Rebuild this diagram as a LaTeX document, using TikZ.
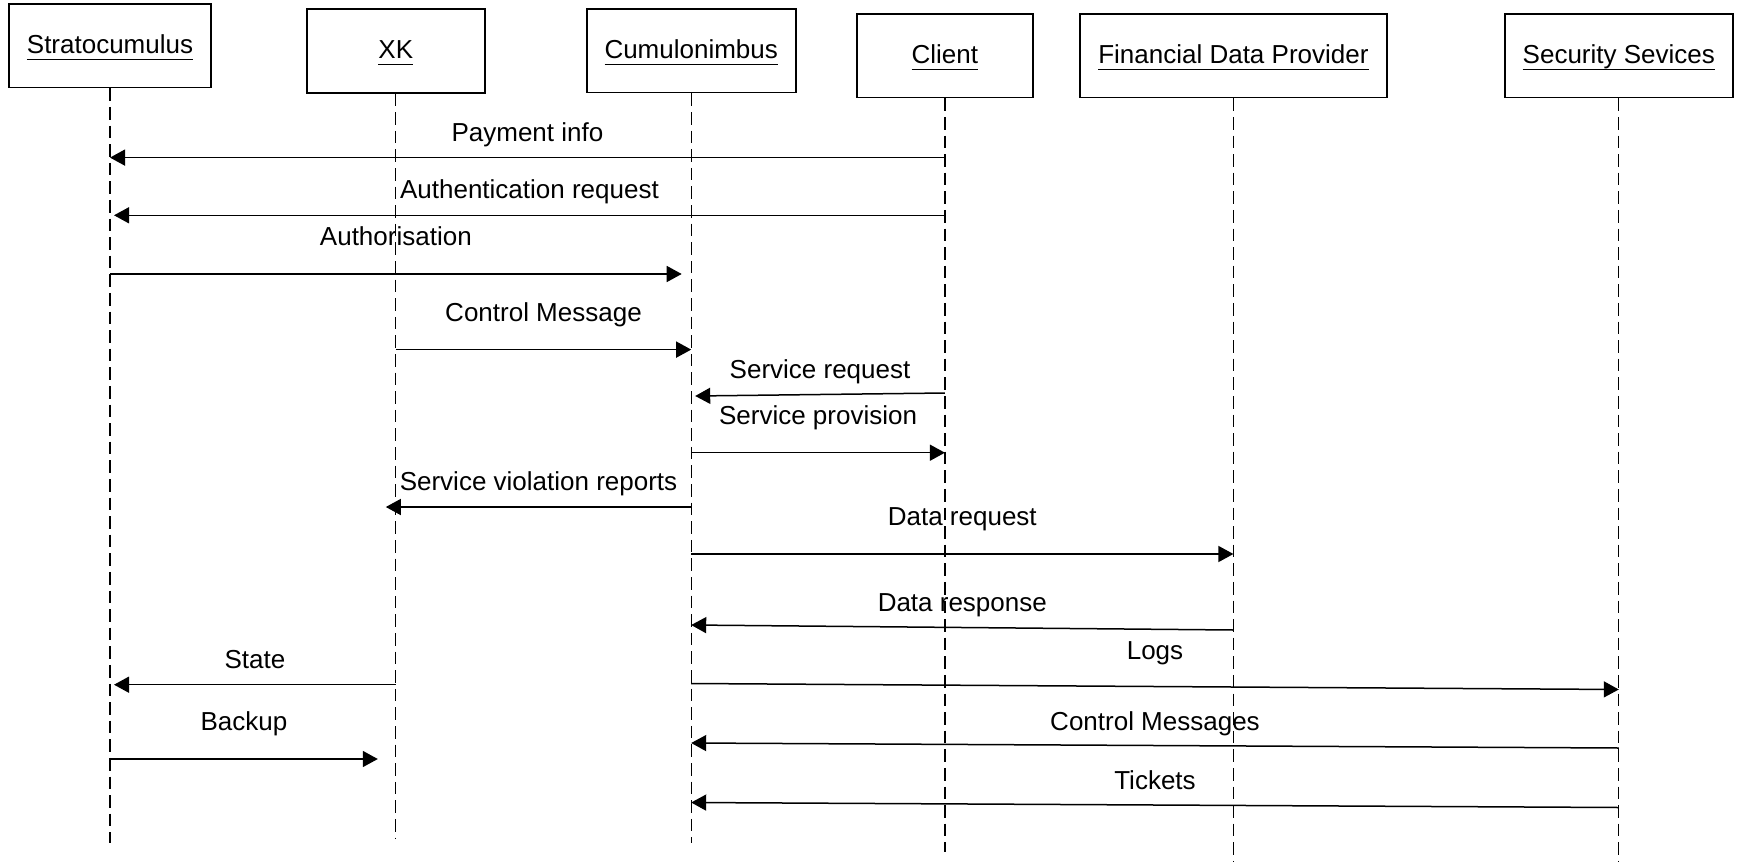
\documentclass[tikz,border=0pt]{standalone}
\usepackage{fontspec}
\setmainfont{Liberation Sans}
\usetikzlibrary{arrows.meta}

% underlined name, rule kept at a fixed depth under the baseline
\newcommand\uname[1]{\leavevmode\setbox0\hbox{#1}\rlap{\rule[-3.3pt]{\wd0}{0.65pt}}\box0}

\begin{document}
\begin{tikzpicture}[x=0.5pt, y=-0.5pt, >={Triangle[length=7.5pt, width=8pt]},
  actor/.style={draw, line width=0.9pt, minimum height=41.7pt, inner sep=0pt,
                text height=9.5pt, text depth=2pt, font=\fontsize{13}{15}\selectfont},
  lifeline/.style={line width=0.65pt, dash pattern=on 6.3pt off 3pt},
  msg/.style={->, line width=0.75pt},
  lbl/.style={midway, font=\fontsize{13}{15}\selectfont, inner sep=0pt,
              text height=9.5pt, text depth=2.5pt}]
  \useasboundingbox (0,0) rectangle (1740,862);

  % Participants
  \node[actor, minimum width=101pt] (strato) at (110,45.7) {\uname{Stratocumulus}};
  \node[actor, minimum width=88.8pt] (xk) at (395.8,51) {\uname{XK}};
  \node[actor, minimum width=104.5pt] (cumulo) at (691.2,50.8) {\uname{Cumulonimbus}};
  \node[actor, minimum width=88.2pt] (client) at (944.9,55.7) {\uname{Client}};
  \node[actor, minimum width=153.4pt] (fdp) at (1233.4,55.7) {\uname{Financial Data Provider}};
  \node[actor, minimum width=114pt] (sec) at (1618.8,55.7) {\uname{Security Sevices}};

  % Lifelines
  \draw[lifeline] (strato.south) -- (strato |- 0,843);
  \draw[lifeline] (xk.south) -- (xk |- 0,838);
  \draw[lifeline] (cumulo.south) -- (cumulo |- 0,843);
  \draw[lifeline] (client.south) -- (client |- 0,852);
  \draw[lifeline] (fdp.south) -- (fdp |- 0,862);
  \draw[lifeline] (sec.south) -- (sec |- 0,862);

  % Login and authorisation
  \draw[msg] (client |- 0,157.6) -- (strato |- 0,157.6)
    node[lbl, yshift=11.75pt] {Payment info};
  \draw[msg] (client |- 0,215.3) -- ([xshift=2pt]strato |- 0,215.3)
    node[lbl, yshift=11.75pt] {Authentication request};
  \draw[msg] (strato |- 0,274) -- ([xshift=-4.75pt]cumulo |- 0,274)
    node[lbl, yshift=17.75pt] {Authorisation};
  \draw[msg] (xk |- 0,349.6) -- (cumulo |- 0,349.6)
    node[lbl, yshift=17.75pt] {Control Message};

  % Service
  \draw[msg] (client |- 0,393) -- ([xshift=2pt]cumulo |- 0,396)
    node[lbl, yshift=11.75pt] {Service request};
  \draw[msg] (cumulo |- 0,452.7) -- (client |- 0,452.7)
    node[lbl, yshift=17.75pt] {Service provision};
  \draw[msg] (cumulo |- 0,507) -- ([xshift=-5pt]xk |- 0,507)
    node[lbl, yshift=11.75pt] {Service violation reports};

  % Financial data
  \draw[msg] (cumulo |- 0,554) -- (fdp |- 0,554)
    node[lbl, yshift=17.75pt] {Data request};
  \draw[msg] (fdp |- 0,630) -- (cumulo |- 0,625)
    node[lbl, yshift=11.75pt] {Data response};

  % State and backup
  \draw[msg] (xk |- 0,684.7) -- ([xshift=2pt]strato |- 0,684.7)
    node[lbl, yshift=11.75pt] {State};
  \draw[msg] (strato |- 0,759) -- ([xshift=-9pt]xk |- 0,759)
    node[lbl, yshift=17.75pt] {Backup};

  % Security
  \draw[msg] (cumulo |- 0,683.5) -- (sec |- 0,689.5)
    node[lbl, yshift=17pt] {Logs};
  \draw[msg] (sec |- 0,748) -- (cumulo |- 0,743)
    node[lbl, yshift=11.25pt] {Control Messages};
  \draw[msg] (sec |- 0,807.5) -- (cumulo |- 0,802.5)
    node[lbl, yshift=11.5pt] {Tickets};
\end{tikzpicture}
\end{document}
